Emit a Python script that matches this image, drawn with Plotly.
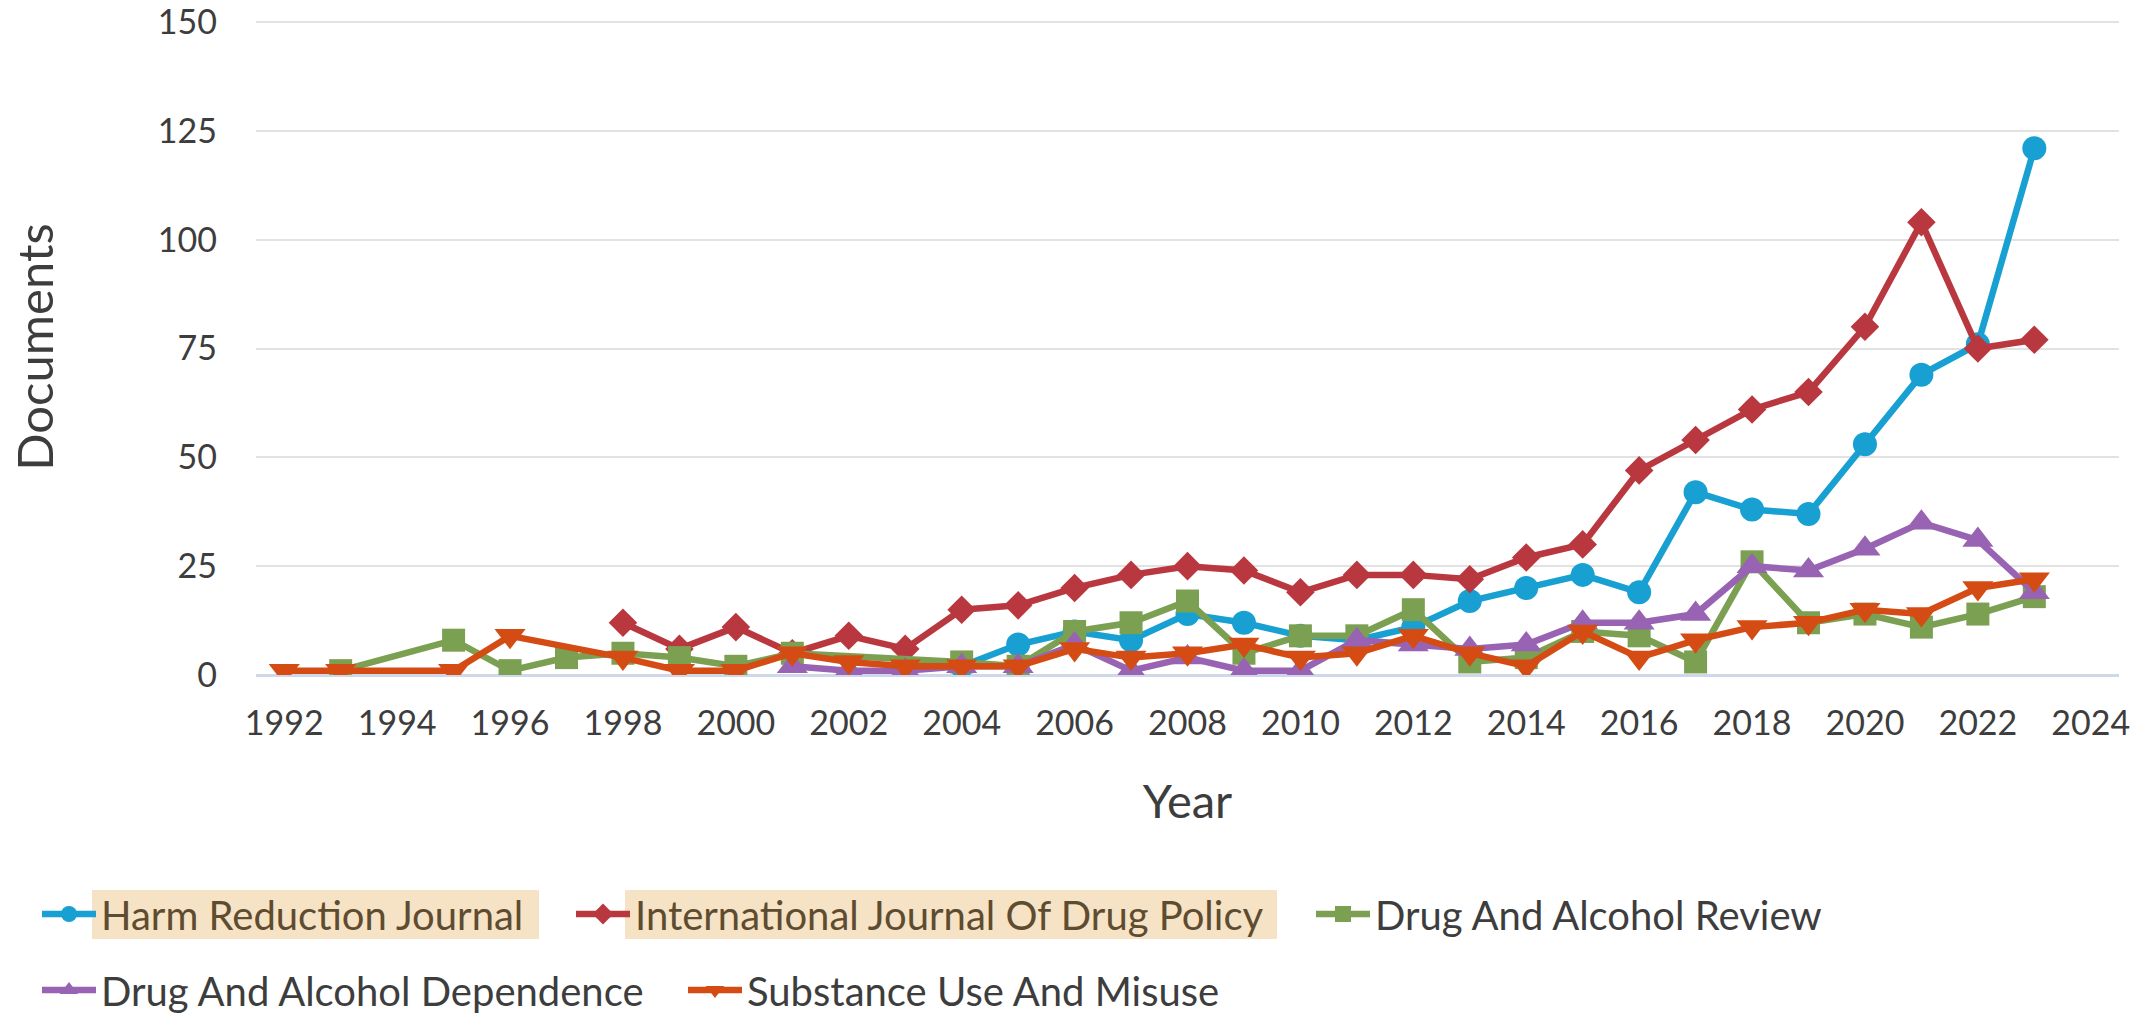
import plotly.graph_objects as go

# ---------------- data ----------------
harm_years = list(range(2004, 2024))
harm_vals = [2, 7, 10, 8, 14, 12, 9, 8, 11, 17, 20, 23, 19, 42, 38, 37, 53, 69, 76, 121]

ijdp_years = list(range(1998, 2024))
ijdp_vals = [12, 6, 11, 5, 9, 6, 15, 16, 20, 23, 25, 24, 19, 23, 23, 22, 27, 30, 47, 54, 61, 65, 80, 104, 75, 77]

review_years = [1993, 1995, 1996, 1997, 1998, 1999, 2000, 2001] + list(range(2004, 2024))
review_vals = [1, 8, 1, 4, 5, 4, 2, 5,
               3, 2, 10, 12, 17, 5, 9, 9, 15, 3, 4, 10, 9, 3, 26, 12, 14, 11, 14, 18]

dep_years = list(range(2001, 2024))
dep_vals = [2, 1, 1, 2, 2, 7, 1, 4, 1, 1, 8, 7, 6, 7, 12, 12, 14, 25, 24, 29, 35, 31, 19]

sub_years = [1992, 1993, 1995, 1996, 1998, 1999, 2000, 2001, 2002, 2003] + list(range(2004, 2024))
sub_vals = [1, 1, 1, 9, 4, 1, 1, 5, 3, 2,
            2, 2, 6, 4, 5, 7, 4, 5, 9, 5, 2, 10, 4, 8, 11, 12, 15, 14, 20, 22]

series_names = ["Harm Reduction Journal", "International Journal Of Drug Policy",
                "Drug And Alcohol Review", "Drug And Alcohol Dependence",
                "Substance Use And Misuse"]
x_tick_vals = list(range(1992, 2025, 2))
y_tick_vals = [0, 25, 50, 75, 100, 125, 150]

# ---------------- styling ----------------
W, H = 2134, 1014
L, R, T, B = 256, 15, 19, 339
PW, PH = W - L - R, H - T - B
FONT = "Lato"
TXT = "#3d3d3d"
HL_TXT = "#5e4c30"
HL_BG = "#f6e2c4"

def px_x(px):
    return (px - L) / PW

def px_y(py):
    return (H - B - py) / PH

colors = ["#17a0d1", "#b9383f", "#7ba052", "#9763b2", "#d44c14"]
symbols = ["circle", "diamond", "square", "triangle-up", "triangle-down"]
msizes = [24, 22, 23, 27, 27]
data = [(harm_years, harm_vals), (ijdp_years, ijdp_vals), (review_years, review_vals),
        (dep_years, dep_vals), (sub_years, sub_vals)]
legend_ids = ["legend", "legend2", "legend3", "legend4", "legend5"]
highlight = [True, True, False, False, False]

fig = go.Figure()
for i, (xs, ys) in enumerate(data):
    nm = series_names[i]
    if highlight[i]:
        nm = f"<span style='color:{HL_TXT}'>{nm}</span>"
    fig.add_trace(go.Scatter(
        x=xs, y=ys, name=nm, mode="lines+markers",
        line=dict(color=colors[i], width=6.5),
        marker=dict(symbol=symbols[i], size=msizes[i], color=colors[i], line=dict(width=0)),
        legend=legend_ids[i], showlegend=True,
    ))

# legend placement (pixel targets for the start of each legend entry)
leg_pos = [(37, 914), (571, 914), (1311, 914), (37, 990), (683, 990)]
leg_common = dict(orientation="h", xanchor="left", yanchor="middle",
                  bgcolor="rgba(0,0,0,0)", borderwidth=0, itemwidth=54,
                  font=dict(family=FONT, size=40, color=TXT), xref="paper", yref="paper")
legends = {}
for lid, (lx, ly) in zip(legend_ids, leg_pos):
    legends[lid] = dict(x=px_x(lx), y=px_y(ly), **leg_common)

# highlight boxes behind first two legend labels
for x0, x1 in [(92, 539), (625, 1277)]:
    fig.add_shape(type="rect", xref="paper", yref="paper",
                  x0=px_x(x0), x1=px_x(x1), y0=px_y(939), y1=px_y(890),
                  fillcolor=HL_BG, line=dict(width=0), layer="below")

fig.update_layout(
    width=W, height=H, showlegend=True,
    margin=dict(l=L, r=R, t=T, b=B, autoexpand=False),
    paper_bgcolor="white", plot_bgcolor="white",
    font=dict(family=FONT, color=TXT),
    xaxis=dict(
        range=[1991.5, 2024.5], tickmode="array", tickvals=x_tick_vals,
        showgrid=False, zeroline=False, showline=False, ticks="",
        tickfont=dict(family=FONT, size=34, color=TXT), ticklabelstandoff=25,
        ticklabeloverflow="allow",
        title=dict(text="Year", font=dict(family=FONT, size=47, color=TXT), standoff=44),
        automargin=False,
    ),
    yaxis=dict(
        range=[0, 150.7], tickmode="array", tickvals=y_tick_vals,
        showgrid=True, gridcolor="#e2e2e2", gridwidth=2,
        zeroline=True, zerolinecolor="#cfd8ea", zerolinewidth=3,
        showline=False, ticks="",
        tickfont=dict(family=FONT, size=34, color=TXT), ticklabelstandoff=38,
        ticklabeloverflow="allow",
        title=dict(text="Documents", font=dict(family=FONT, size=49, color=TXT), standoff=88),
        automargin=False,
    ),
    **legends,
)

fig.write_html("out.html", config={"displayModeBar": False},
               post_script="document.body.style.margin='0';document.body.style.overflow='hidden';")
